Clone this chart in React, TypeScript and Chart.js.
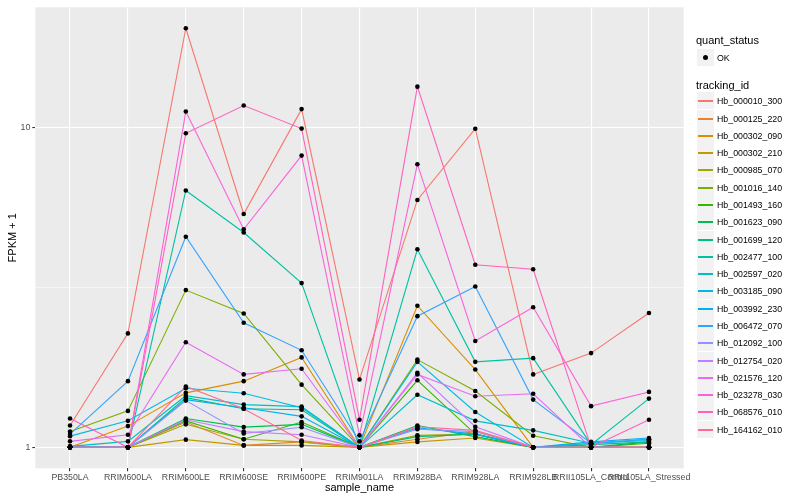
import React, { useEffect, useRef } from "react";
import { Chart, registerables } from "chart.js";

Chart.register(...registerables);

const FONT = "'Liberation Sans', Arial, Helvetica, sans-serif";

const sampleNames = [
  "PB350LA", "RRIM600LA", "RRIM600LE", "RRIM600SE", "RRIM600PE", "RRIM901LA",
  "RRIM928BA", "RRIM928LA", "RRIM928LB", "RRII105LA_Control", "RRII105LA_Stressed",
];

const trackingIds = [
  "Hb_000010_300", "Hb_000125_220", "Hb_000302_090", "Hb_000302_210", "Hb_000985_070",
  "Hb_001016_140", "Hb_001493_160", "Hb_001623_090", "Hb_001699_120", "Hb_002477_100",
  "Hb_002597_020", "Hb_003185_090", "Hb_003992_230", "Hb_006472_070", "Hb_012092_100",
  "Hb_012754_020", "Hb_021576_120", "Hb_023278_030", "Hb_068576_010", "Hb_164162_010",
];

const seriesColors = [
  "#F8766D", "#EA8331", "#D89000", "#C09B00", "#A3A500", "#7CAE00", "#39B600", "#00BB4E",
  "#00BF7D", "#00C1A3", "#00BFC4", "#00BAE0", "#00B0F6", "#35A2FF", "#9590FF", "#C77CFF",
  "#E76BF3", "#FA62DB", "#FF62BC", "#FF6C91",
];

// FPKM + 1 values per sample (same order as sampleNames)
const hb000010_300 = [1.17, 2.27, 20.4, 5.36, 11.4, 1.63, 5.93, 9.9, 1.69, 1.97, 2.63];
const hb000125_220 = [1.0, 1.0, 1.2, 1.014, 1.04, 1.0, 1.06, 1.12, 1.0, 1.0, 1.0];
const hb000302_090 = [1.0, 1.165, 1.48, 1.61, 1.91, 1.0, 2.77, 1.75, 1.0, 1.0, 1.0];
const hb000302_210 = [1.0, 1.0, 1.057, 1.014, 1.014, 1.0, 1.04, 1.07, 1.0, 1.0, 1.0];
const hb000985_070 = [1.0, 1.0, 1.18, 1.06, 1.04, 1.0, 1.09, 1.1, 1.0, 1.0, 1.0];
const hb001016_140 = [1.12, 1.3, 3.1, 2.62, 1.57, 1.0, 1.88, 1.5, 1.087, 1.0, 1.0];
const hb001493_160 = [1.0, 1.0, 1.21, 1.06, 1.2, 1.0, 1.62, 1.1, 1.0, 1.0, 1.03];
const hb001623_090 = [1.0, 1.0, 1.23, 1.157, 1.18, 1.0, 1.17, 1.08, 1.0, 1.0, 1.04];
const hb001699_120 = [1.0, 1.0, 1.43, 1.32, 1.31, 1.0, 1.08, 1.1, 1.0, 1.02, 1.04];
const hb002477_100 = [1.007, 1.0, 6.35, 4.69, 3.26, 1.0, 4.16, 1.85, 1.9, 1.02, 1.42];
const hb002597_020 = [1.007, 1.044, 1.45, 1.36, 1.34, 1.0, 1.46, 1.21, 1.13, 1.03, 1.06];
const hb003185_090 = [1.084, 1.21, 1.53, 1.476, 1.33, 1.0, 1.85, 1.29, 1.0, 1.03, 1.05];
const hb003992_230 = [1.0, 1.0, 1.41, 1.33, 1.25, 1.0, 1.15, 1.1, 1.0, 1.04, 1.07];
const hb006472_070 = [1.1, 1.61, 4.55, 2.45, 2.01, 1.044, 2.57, 3.18, 1.41, 1.03, 1.06];
const hb012092_100 = [1.0, 1.0, 1.4, 1.105, 1.155, 1.0, 1.14, 1.12, 1.0, 1.0, 1.0];
const hb012754_020 = [1.0, 1.0, 1.22, 1.12, 1.095, 1.0, 1.71, 1.16, 1.0, 1.0, 1.0];
const hb021576_120 = [1.044, 1.095, 2.13, 1.69, 1.76, 1.0, 1.69, 1.445, 1.47, 1.0, 1.0];
const hb023278_030 = [1.0, 1.0, 11.2, 4.8, 8.16, 1.09, 7.67, 2.15, 2.74, 1.345, 1.49];
const hb068576_010 = [1.23, 1.0, 9.58, 11.7, 9.91, 1.22, 13.4, 3.72, 3.6, 1.0, 1.22];
const hb164162_010 = [1.0, 1.0, 1.55, 1.32, 1.05, 1.0, 1.16, 1.13, 1.0, 1.0, 1.0];

const seriesValues = [
  hb000010_300, hb000125_220, hb000302_090, hb000302_210, hb000985_070,
  hb001016_140, hb001493_160, hb001623_090, hb001699_120, hb002477_100,
  hb002597_020, hb003185_090, hb003992_230, hb006472_070, hb012092_100,
  hb012754_020, hb021576_120, hb023278_030, hb068576_010, hb164162_010,
];

const yTickValues = [1, 10];

export default function App() {
  const ref = useRef<HTMLCanvasElement | null>(null);

  useEffect(() => {
    const canvas = ref.current;
    if (!canvas) return;
    const all = seriesValues.flat();
    const lmin = Math.log10(Math.min(...all));
    const lmax = Math.log10(Math.max(...all));
    const ex = (lmax - lmin) * 0.05;
    const yMin = Math.pow(10, lmin - ex);
    const yMax = Math.pow(10, lmax + ex);
    const minorVal = Math.sqrt(10);

    const lineSets = seriesValues.map((vals, i) => ({
      type: "line" as const,
      label: trackingIds[i],
      data: vals.map((v, j) => ({ x: j, y: v })),
      borderColor: seriesColors[i],
      backgroundColor: seriesColors[i],
      borderWidth: 1.1,
      pointRadius: 0,
      fill: false,
      tension: 0,
      order: 100 - i,
    }));
    const pointSet = {
      type: "scatter" as const,
      label: "OK",
      data: seriesValues.flatMap((vals) => vals.map((v, j) => ({ x: j, y: v }))),
      backgroundColor: "#000000",
      borderColor: "#000000",
      borderWidth: 0,
      pointRadius: 2.3,
      pointStyle: "circle",
      showLine: false,
      order: -1,
    };

    const panelBg = {
      id: "panelBg",
      beforeDraw(chart: any) {
        const { ctx, chartArea: a } = chart;
        ctx.save();
        ctx.fillStyle = "#EBEBEB";
        ctx.fillRect(a.left, a.top, a.right - a.left, a.bottom - a.top);
        ctx.restore();
      },
    };

    const chart = new Chart(canvas, {
      type: "line",
      data: { datasets: [...lineSets, pointSet] as any },
      options: {
        animation: false,
        responsive: false,
        layout: { padding: { left: 0, top: 5, right: 116.3, bottom: 0 } },
        plugins: { legend: { display: false }, tooltip: { enabled: false } },
        scales: {
          x: {
            type: "linear",
            min: -0.6,
            max: sampleNames.length - 1 + 0.6,
            afterBuildTicks: (s: any) => {
              s.ticks = sampleNames.map((_, i) => ({ value: i }));
            },
            afterFit: (s: any) => {
              s.height = 31.7;
            },
            ticks: {
              callback: (v: any) => sampleNames[Math.round(Number(v))] ?? "",
              autoSkip: false,
              maxRotation: 0,
              minRotation: 0,
              color: "#4D4D4D",
              font: { family: FONT, size: 8.8 },
              padding: 1,
            },
            grid: { color: "#FFFFFF", lineWidth: 1.1, tickLength: 3, tickColor: "#333333", drawTicks: true },
            border: { display: false },
            title: {
              display: true,
              text: "sample_name",
              color: "#000000",
              font: { family: FONT, size: 11 },
              padding: { top: 0, bottom: 5 },
            },
          },
          y: {
            type: "logarithmic",
            min: yMin,
            max: yMax,
            afterBuildTicks: (s: any) => {
              s.ticks = [{ value: yTickValues[0] }, { value: minorVal }, { value: yTickValues[1] }];
            },
            afterFit: (s: any) => {
              s.width = 35.3;
            },
            ticks: {
              callback: (v: any) => (yTickValues.includes(Number(v)) ? String(v) : ""),
              color: "#4D4D4D",
              font: { family: FONT, size: 8.8 },
              padding: 2,
              autoSkip: false,
            },
            grid: {
              color: "#FFFFFF",
              lineWidth: (ctx: any) =>
                ctx.tick && Math.abs(ctx.tick.value - minorVal) < 0.01 ? 0.55 : 1.1,
              tickColor: (ctx: any) =>
                ctx.tick && Math.abs(ctx.tick.value - minorVal) < 0.01 ? "rgba(0,0,0,0)" : "#333333",
              tickLength: 3,
            },
            border: { display: false },
            title: {
              display: true,
              text: "FPKM + 1",
              color: "#000000",
              font: { family: FONT, size: 11 },
              padding: { top: 6, bottom: 0 },
            },
          },
        },
      } as any,
      plugins: [panelBg],
    });
    return () => chart.destroy();
  }, []);

  const keyStep = 17.28;
  const keyTop = (i: number) => Math.round(101 - 8.64 + i * keyStep);

  return (
    <div style={{ position: "absolute", left: 0, top: 0, width: 800, height: 500, background: "#FFFFFF", fontFamily: FONT }}>
      <canvas ref={ref} width={800} height={500} style={{ position: "absolute", left: 0, top: 0, width: 800, height: 500 }} />
      <div style={{ position: "absolute", left: 696, top: 33, fontSize: 11, lineHeight: "14px", color: "#000" }}>quant_status</div>
      <div style={{ position: "absolute", left: 697, top: 49, width: 17, height: 17, background: "#F2F2F2" }}>
        <div style={{ position: "absolute", left: 6, top: 6, width: 5, height: 5, borderRadius: "50%", background: "#000" }} />
      </div>
      <div style={{ position: "absolute", left: 717, top: 51.5, fontSize: 8.8, lineHeight: "12px", color: "#000" }}>OK</div>
      <div style={{ position: "absolute", left: 696, top: 78, fontSize: 11, lineHeight: "14px", color: "#000" }}>tracking_id</div>
      {trackingIds.map((id, i) => (
        <React.Fragment key={id}>
          <div
            style={{
              position: "absolute",
              left: 697,
              top: keyTop(i),
              width: 17,
              height: 17,
              background: "#F2F2F2",
            }}
          >
            <div style={{ position: "absolute", left: 1, width: 15, top: 7.5, height: 2, background: seriesColors[i] }} />
          </div>
          <div
            style={{
              position: "absolute",
              left: 717,
              top: keyTop(i) + 2.6,
              fontSize: 8.8,
              lineHeight: "12px",
              color: "#000",
              whiteSpace: "nowrap",
            }}
          >
            {id}
          </div>
        </React.Fragment>
      ))}
    </div>
  );
}
